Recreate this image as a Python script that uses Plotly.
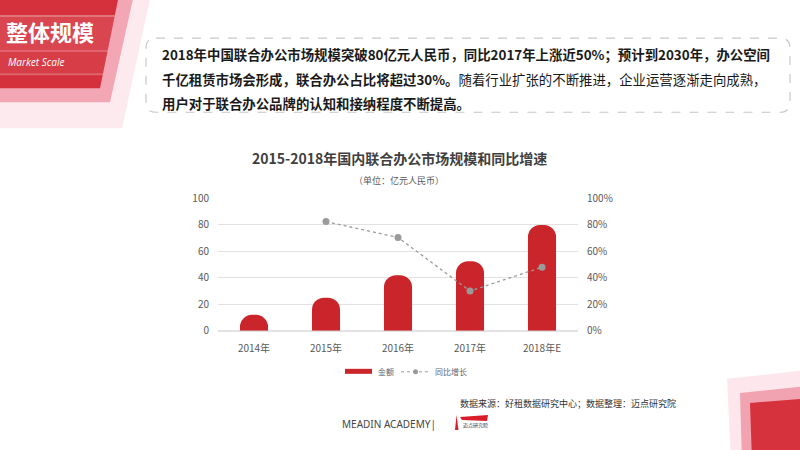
import plotly.graph_objects as go

# data
years = ["2014年", "2015年", "2016年", "2017年", "2018年E"]
amount = [12, 25, 42, 52.5, 80]          # 亿元人民币
growth = [None, 0.825, 0.705, 0.30, 0.48]  # 同比增长

# reference picture is 800x450; the graph is drawn in an 800x434 area 8px down
W, H, TOP, HH = 800, 450, 8, 434
CJK = "Noto Sans CJK SC"
RED = "#c9252b"


def px(x, y):
    return x / W, 1 - (y - TOP) / HH


def poly(points, color, opacity=1.0):
    parts = []
    for i, (x, y) in enumerate(points):
        u, v = px(x, y)
        parts.append(("M" if i == 0 else "L") + f"{u:.5f},{v:.5f}")
    return dict(type="path", xref="paper", yref="paper", path=" ".join(parts) + " Z",
                fillcolor=color, opacity=opacity, line=dict(width=0), layer="below")


def note(x, y, text, size, color="#333", bold=False, anchor="center", family=CJK, italic=False):
    u, v = px(x, y)
    if bold:
        text = "<b>" + text + "</b>"
    if italic:
        text = "<i>" + text + "</i>"
    return dict(x=u, y=v, xref="paper", yref="paper", text=text, showarrow=False,
                xanchor=anchor, yanchor="middle", font=dict(size=size, color=color, family=family))


fig = go.Figure()

fig.add_trace(go.Bar(
    x=years, y=amount, name="金额",
    marker=dict(color=RED, cornerradius="45%", line=dict(width=0)),
    showlegend=False, hoverinfo="skip",
))
fig.add_trace(go.Scatter(
    x=years, y=growth, name="同比增长", yaxis="y2", mode="lines+markers",
    line=dict(color="#9a9a9a", width=1.3, dash="dot"),
    marker=dict(color="#9a9a9a", size=7),
    showlegend=False, connectgaps=False, hoverinfo="skip",
))

shapes = []

# top-left header decoration
xr = lambda y: 118 - 18 * y / 88
shapes.append(poly([(0, -10), (152, -10), (122, 128), (0, 128)], "#fdeaef"))
shapes.append(poly([(0, -10), (135, -10), (110, 102), (0, 102)], "#f3a6b4"))
shapes.append(poly([(0, -10), (120, -10), (100, 88), (0, 88)], "#d5313c"))
for a, b, op in [(15, 50, 0.10), (52, 73, 0.06), (15, 17, 0.25), (50, 52, 0.25), (73, 75, 0.25)]:
    shapes.append(poly([(0, a), (xr(a), a), (xr(b), b), (0, b)], "white", op))

# bottom-right decoration
shapes.append(poly([(727, 378), (800, 370), (800, 460), (731, 460)], "#fde7ec"))
shapes.append(poly([(740, 392), (800, 386), (800, 460), (742, 460)], "#f2a3b1"))
shapes.append(poly([(750, 402), (800, 398), (800, 460), (752, 460)], "#d5323d"))

# dashed rounded text box
x0, y0, x1, y1, r = 146, 38, 790, 112, 10
pts = [("M", x0 + r, y0), ("L", x1 - r, y0), ("Q", x1, y0, x1, y0 + r), ("L", x1, y1 - r),
       ("Q", x1, y1, x1 - r, y1), ("L", x0 + r, y1), ("Q", x0, y1, x0, y1 - r),
       ("L", x0, y0 + r), ("Q", x0, y0, x0 + r, y0)]
path = ""
for p in pts:
    cmd, coords = p[0], p[1:]
    vals = []
    for i in range(0, len(coords), 2):
        u, v = px(coords[i], coords[i + 1])
        vals.append(f"{u:.5f},{v:.5f}")
    path += cmd + " ".join(vals) + " "
shapes.append(dict(type="path", xref="paper", yref="paper", path=path + "Z",
                   line=dict(color="#c8c8c8", width=1.2, dash="dash"), fillcolor="rgba(0,0,0,0)"))

# legend swatches
shapes.append(poly([(345, 368), (372, 368), (372, 373), (345, 373)], RED))
u0, v0 = px(401, 371)
u1, _ = px(430, 371)
shapes.append(dict(type="line", xref="paper", yref="paper", x0=u0, x1=u1, y0=v0, y1=v0,
                   line=dict(color="#9a9a9a", width=1, dash="dot")))
uc, vc = px(415.5, 371)
shapes.append(dict(type="circle", xref="paper", yref="paper", x0=uc - 2.5 / W, x1=uc + 2.5 / W,
                   y0=vc - 2.5 / HH, y1=vc + 2.5 / HH, fillcolor="#9a9a9a", line=dict(width=0)))

# small logo
shapes.append(poly([(455, 429), (456.5, 414), (458.5, 429)], "#d81e2a"))
shapes.append(poly([(460, 416), (488, 414), (487, 420), (462, 419)], "#d81e2a"))

annotations = [
    note(50, 31, "整体规模", 22, "white", bold=True),
    note(6, 62, "Market Scale", 10, "white", anchor="left", family="Open Sans", italic=True),
    note(160, 54, "2018年中国联合办公市场规模突破80亿元人民币，同比2017年上涨近50%；预计到2030年，办公空间",
         13.4, "#1a1a1a", bold=True, anchor="left"),
    note(160, 79, "<b>千亿租赁市场会形成，联合办公占比将超过30%。</b>随着行业扩张的不断推进，企业运营逐渐走向成熟，",
         13.4, "#1a1a1a", anchor="left"),
    note(160, 103, "用户对于联合办公品牌的认知和接纳程度不断提高。", 13.4, "#1a1a1a", bold=True, anchor="left"),
    note(399, 158, "2015-2018年国内联合办公市场规模和同比增速", 14, "#404040", bold=True),
    note(399, 180, "（单位：亿元人民币）", 9, "#595959"),
    note(376, 371, "金额", 8, "#666", anchor="left"),
    note(433, 371, "同比增长", 8, "#666", anchor="left"),
    note(458, 403, "数据来源：好租数据研究中心；数据整理：迈点研究院", 9, "#333", anchor="left"),
    note(340, 423, "MEADIN ACADEMY|", 10, "#444", anchor="left", family="Noto Sans"),
    note(461, 424, "迈点研究院", 5, "#333", anchor="left"),
]

tickfont = dict(size=10, color="#595959", family=CJK)
fig.update_layout(
    autosize=True,
    margin=dict(l=0, r=0, t=0, b=0),
    paper_bgcolor="white", plot_bgcolor="white",
    bargap=0.61,
    shapes=shapes,
    annotations=annotations,
    xaxis=dict(domain=[218 / W, 578 / W], type="category", showgrid=False, showline=False,
               ticks="", tickfont=tickfont, ticklabelstandoff=10),
    yaxis=dict(domain=[px(0, 330)[1], px(0, 198)[1]], range=[0, 100], dtick=20,
               gridcolor="#e2e2e2", gridwidth=1, zeroline=True, zerolinecolor="#e2e2e2",
               showline=False, ticks="", tickfont=tickfont, ticklabelstandoff=8),
    yaxis2=dict(overlaying="y", side="right", range=[0, 1], dtick=0.2, tickformat=".0%",
                showgrid=False, zeroline=False, showline=False, ticks="",
                tickfont=tickfont, ticklabelstandoff=8),
    showlegend=False,
)

# fill the whole window: no body margin, graph sized to the viewport
fix = ("document.documentElement.style.margin='0';"
       "document.body.style.margin='0';"
       "document.body.style.overflow='hidden';"
       "Plotly.Plots.resize(document.getElementById('{plot_id}'));")
fig.write_html("out.html", config={"displayModeBar": False},
               default_width="100vw", default_height="100vh", post_script=fix)
